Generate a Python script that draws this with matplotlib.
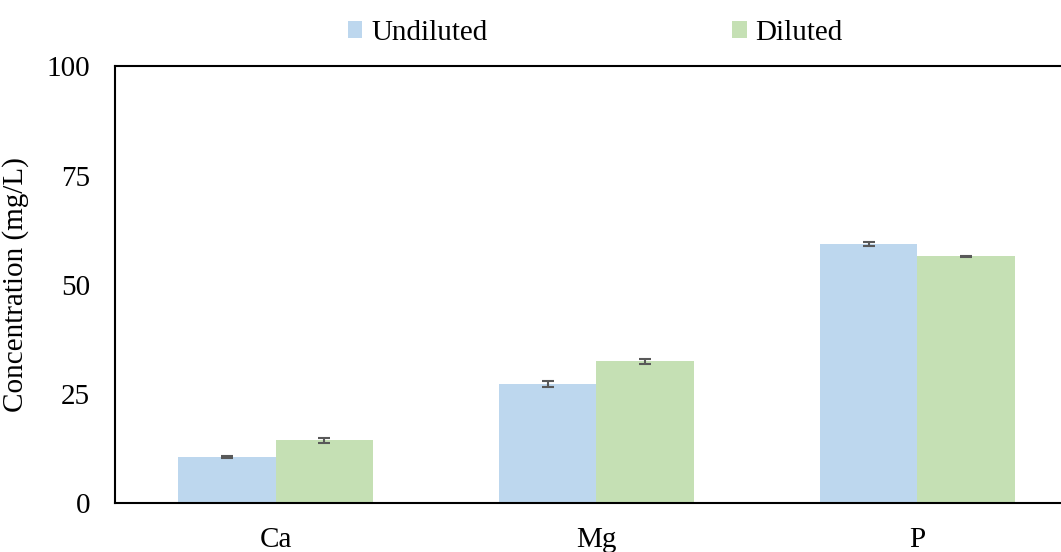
import numpy as np
import matplotlib
matplotlib.use("Agg")
import matplotlib.pyplot as plt
from matplotlib.patches import Patch

plt.rcParams['font.family'] = ['Liberation Serif', 'DejaVu Serif']

categories = ["Ca", "Mg", "P"]
series_names = ["Undiluted", "Diluted"]
undiluted = [10.6, 27.3, 59.4]
undiluted_err = [0.2, 0.75, 0.5]
diluted = [14.4, 32.5, 56.5]
diluted_err = [0.6, 0.6, 0.1]
y_ticks = [0, 25, 50, 75, 100]

colors = ["#BDD7EE", "#C5E0B4"]
err_color = "#595959"
fs = 21

fig = plt.figure(figsize=(10.61, 5.52), dpi=100)
ax = fig.add_axes([0.1084, 0.0882, 0.9076, 0.7918])

x = np.arange(len(categories))
w = 0.305
ax.bar(x - w / 2, undiluted, w, color=colors[0], yerr=undiluted_err,
       error_kw=dict(ecolor=err_color, elinewidth=1.5, capsize=4.3, capthick=1.5))
ax.bar(x + w / 2, diluted, w, color=colors[1], yerr=diluted_err,
       error_kw=dict(ecolor=err_color, elinewidth=1.5, capsize=4.3, capthick=1.5))

ax.set_xlim(-0.5, 2.5)
ax.set_ylim(0, 100)
ax.set_yticks(y_ticks)
ax.set_xticks(x)
ax.set_xticklabels(categories)
ax.tick_params(axis='both', length=0, labelsize=fs)
ax.tick_params(axis='y', pad=18)
ax.tick_params(axis='x', pad=17)
for s in ["left", "top", "bottom"]:
    ax.spines[s].set_linewidth(1.5)
    ax.spines[s].set_color("black")
ax.spines["right"].set_visible(False)

ax.set_ylabel("Concentration (mg/L)", fontsize=fs)
ax.yaxis.set_label_coords(-0.0893, 0.5)

handles = [Patch(facecolor=c, edgecolor='none') for c in colors]
fig.legend(handles, series_names, loc="center", bbox_to_anchor=(0.561, 0.941),
           ncol=2, frameon=False, fontsize=fs, handlelength=0.5, handleheight=0.5,
           handletextpad=0.3, columnspacing=8.4)

fig.savefig("out.png", dpi=100)
